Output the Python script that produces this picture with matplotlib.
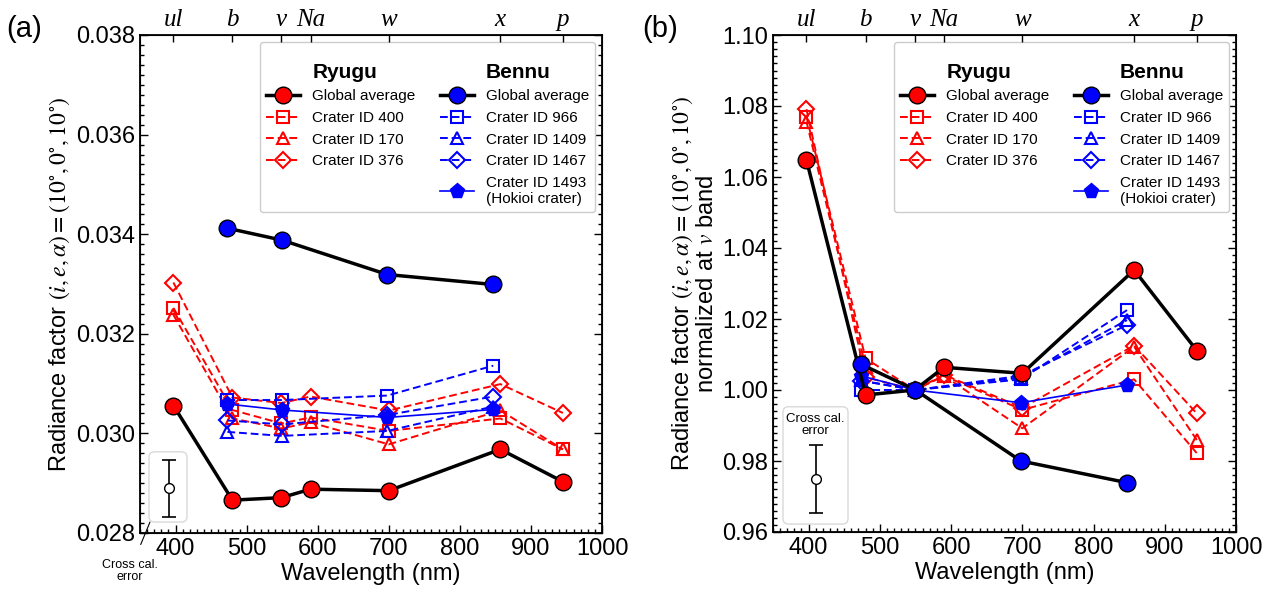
import numpy as np
import matplotlib
matplotlib.use("Agg")
import matplotlib.pyplot as plt
from matplotlib.lines import Line2D
from matplotlib.patches import FancyBboxPatch
from matplotlib.ticker import MultipleLocator, FormatStrFormatter

plt.rcParams['font.family'] = ['Liberation Sans', 'DejaVu Sans']
plt.rcParams['mathtext.fontset'] = 'stix'

# band names on top axis (Hayabusa2 ONC-T)
band_names = ['ul', 'b', 'v', 'Na', 'w', 'x', 'p']
wl_ryugu = [397, 480, 549, 590, 700, 857, 945]
wl_bennu = [473, 550, 698, 847]

# (a) radiance factor
ryugu_global = [0.03056, 0.02866, 0.02871, 0.02888, 0.02885, 0.02968, 0.02903]
ryugu_400 = [0.03252, 0.03047, 0.03020, 0.03032, 0.03005, 0.03030, 0.02968]
ryugu_170 = [0.03238, 0.03030, 0.03010, 0.03022, 0.02978, 0.03046, 0.02968]
ryugu_376 = [0.03303, 0.03072, 0.03061, 0.03074, 0.03046, 0.03099, 0.03041]
bennu_global = [0.03412, 0.03388, 0.03319, 0.03299]
bennu_966 = [0.03067, 0.03067, 0.03076, 0.03136]
bennu_1409 = [0.03003, 0.02995, 0.03005, 0.03054]
bennu_1467 = [0.03026, 0.03018, 0.03037, 0.03074]
bennu_1493 = [0.03059, 0.03047, 0.03032, 0.03048]

# (b) normalized at v band
ryugu_global_n = [1.0648, 0.9986, 1.000, 1.0064, 1.0047, 1.0338, 1.0111]
ryugu_400_n = [1.0770, 1.0089, 1.000, 1.0040, 0.9944, 1.0030, 0.9822]
ryugu_170_n = [1.0756, 1.0066, 1.000, 1.0040, 0.9892, 1.0122, 0.9859]
ryugu_376_n = [1.0791, 1.0036, 1.000, 1.0043, 0.9950, 1.0125, 0.9934]
bennu_global_n = [1.0073, 1.000, 0.9800, 0.9739]
bennu_966_n = [1.0000, 1.000, 1.0030, 1.0225]
bennu_1409_n = [1.0027, 1.000, 1.0035, 1.0197]
bennu_1467_n = [1.0026, 1.000, 1.0040, 1.0183]
bennu_1493_n = [1.0040, 1.000, 0.9964, 1.0014]

# cross calibration error bars
err_a = (391, 0.02890, 0.00057)
err_b = (410, 0.9749, 0.0096)

RED = '#ff0000'
BLUE = '#0000ff'


def draw(ax, rg, r400, r170, r376, bg, b966, b1409, b1467, b1493):
    dash = dict(ls='--', lw=1.4, mfc='none', mew=1.5, dashes=(4, 2))
    ax.plot(wl_ryugu, r400, color=RED, marker='s', ms=8, zorder=3, **dash)
    ax.plot(wl_ryugu, r170, color=RED, marker='^', ms=8.5, zorder=3, **dash)
    ax.plot(wl_ryugu, r376, color=RED, marker='D', ms=8, zorder=3, **dash)
    ax.plot(wl_bennu, b966, color=BLUE, marker='s', ms=8, zorder=4, **dash)
    ax.plot(wl_bennu, b1409, color=BLUE, marker='^', ms=8.5, zorder=4, **dash)
    ax.plot(wl_bennu, b1467, color=BLUE, marker='D', ms=8, zorder=4, **dash)
    ax.plot(wl_bennu, b1493, color=BLUE, marker='p', ms=11, lw=1.2, zorder=4)
    ax.plot(wl_ryugu, rg, color='k', lw=2.5, marker='o', ms=12, mfc=RED,
            mec='k', mew=1.0, zorder=5)
    ax.plot(wl_bennu, bg, color='k', lw=2.5, marker='o', ms=12, mfc=BLUE,
            mec='k', mew=1.0, zorder=5)

    ax.set_xlim(350, 1000)
    ax.xaxis.set_major_locator(MultipleLocator(100))
    ax.xaxis.set_minor_locator(MultipleLocator(10))
    ax.tick_params(which='both', direction='in', top=False, right=True,
                   labelsize=17, width=1.0)
    ax.tick_params(which='major', length=6)
    ax.tick_params(which='minor', length=3)
    for s in ax.spines.values():
        s.set_linewidth(1.3)
    ax.set_xlabel('Wavelength (nm)', fontsize=17, labelpad=2)

    top = ax.twiny()
    top.set_xlim(ax.get_xlim())
    top.set_xticks(wl_ryugu)
    top.set_xticklabels(band_names, family='Liberation Serif',
                        style='italic', fontsize=18)
    top.tick_params(direction='in', length=5, width=1.0, pad=3)
    top.xaxis.set_minor_locator(plt.NullLocator())

    # legend
    blank = Line2D([], [], ls='none', marker='none')
    hd = dict(ls='--', lw=1.4, mfc='none', mew=1.5, dashes=(4, 2))
    handles = [
        blank,
        Line2D([], [], color='k', lw=2.5, marker='o', ms=12, mfc=RED, mec='k'),
        Line2D([], [], color=RED, marker='s', ms=8, **hd),
        Line2D([], [], color=RED, marker='^', ms=8.5, **hd),
        Line2D([], [], color=RED, marker='D', ms=8, **hd),
        blank,
        blank,
        Line2D([], [], color='k', lw=2.5, marker='o', ms=12, mfc=BLUE, mec='k'),
        Line2D([], [], color=BLUE, marker='s', ms=8, **hd),
        Line2D([], [], color=BLUE, marker='^', ms=8.5, **hd),
        Line2D([], [], color=BLUE, marker='D', ms=8, **hd),
        Line2D([], [], color=BLUE, marker='p', ms=11, lw=1.2),
    ]
    labels = ['Ryugu', 'Global average', 'Crater ID 400', 'Crater ID 170',
              'Crater ID 376', ' ',
              'Bennu', 'Global average', 'Crater ID 966', 'Crater ID 1409',
              'Crater ID 1467', 'Crater ID 1493\n(Hokioi crater)']
    leg = ax.legend(handles, labels, ncol=2, loc='upper right', fontsize=11,
                    handlelength=2.2, labelspacing=0.5, columnspacing=1.6,
                    framealpha=1, edgecolor='0.8', borderaxespad=0.45,
                    title=' ', title_fontsize=6)
    leg.set_zorder(10)
    for t in leg.get_texts():
        if t.get_text() in ('Ryugu', 'Bennu'):
            t.set_fontweight('bold')
            t.set_fontsize(15)
    return top


def cross_err(ax, err, box, text_inside):
    x0, y0, x1, y1 = box
    asp = ax.bbox.width / ax.bbox.height
    p = FancyBboxPatch((x0, y0), x1 - x0, y1 - y0, transform=ax.transAxes,
                       boxstyle='round,pad=0,rounding_size=0.012',
                       mutation_aspect=asp, fc='white', ec='0.85', lw=1.0,
                       zorder=6)
    ax.add_patch(p)
    wl, v, e = err
    ax.errorbar([wl], [v], yerr=e, fmt='o', mfc='white', mec='k', ecolor='k',
                ms=7, capsize=5, elinewidth=1.2, capthick=1.2, zorder=7)
    if text_inside:
        ax.text((x0 + x1) / 2, y1 - 0.012, 'Cross cal.\nerror',
                transform=ax.transAxes, ha='center', va='top', fontsize=9.5,
                linespacing=1.0, zorder=7)


fig = plt.figure(figsize=(12.77, 5.96), dpi=100)
axa = fig.add_axes([140 / 1277, 63 / 596, 462 / 1277, 498 / 596])
axb = fig.add_axes([773 / 1277, 64 / 596, 463 / 1277, 497 / 596])

draw(axa, ryugu_global, ryugu_400, ryugu_170, ryugu_376, bennu_global,
     bennu_966, bennu_1409, bennu_1467, bennu_1493)
axa.set_ylim(0.028, 0.038)
axa.yaxis.set_major_locator(MultipleLocator(0.002))
axa.yaxis.set_minor_locator(MultipleLocator(0.0002))
axa.yaxis.set_major_formatter(FormatStrFormatter('%.3f'))
axa.set_ylabel(r'Radiance factor $(i,e,\alpha)=(10^{\circ},0^{\circ},10^{\circ})$',
               fontsize=17, labelpad=3)
cross_err(axa, err_a, (0.0195, 0.022, 0.1017, 0.163), False)
axa.annotate('Cross cal.\nerror', xy=(0.0216, 0.022), xycoords='axes fraction',
             xytext=(-0.022, -0.076), textcoords='axes fraction',
             ha='center', va='center', fontsize=9, linespacing=1.0,
             arrowprops=dict(arrowstyle='-', color='k', lw=0.8,
                             shrinkA=9, shrinkB=0),
             annotation_clip=False)

draw(axb, ryugu_global_n, ryugu_400_n, ryugu_170_n, ryugu_376_n,
     bennu_global_n, bennu_966_n, bennu_1409_n, bennu_1467_n, bennu_1493_n)
axb.set_ylim(0.96, 1.10)
axb.yaxis.set_major_locator(MultipleLocator(0.02))
axb.yaxis.set_minor_locator(MultipleLocator(0.002))
axb.yaxis.set_major_formatter(FormatStrFormatter('%.2f'))
axb.set_ylabel('Radiance factor $(i,e,\\alpha)=(10^{\\circ},0^{\\circ},10^{\\circ})$\n'
               'normalized at $v$ band', fontsize=17, linespacing=1.05,
               labelpad=3)
cross_err(axb, err_b, (0.0216, 0.016, 0.162, 0.252), True)

fig.text(0.005, 0.951, '(a)', fontsize=21, va='center')
fig.text(0.503, 0.951, '(b)', fontsize=21, va='center')

fig.savefig('out.png', dpi=100)
